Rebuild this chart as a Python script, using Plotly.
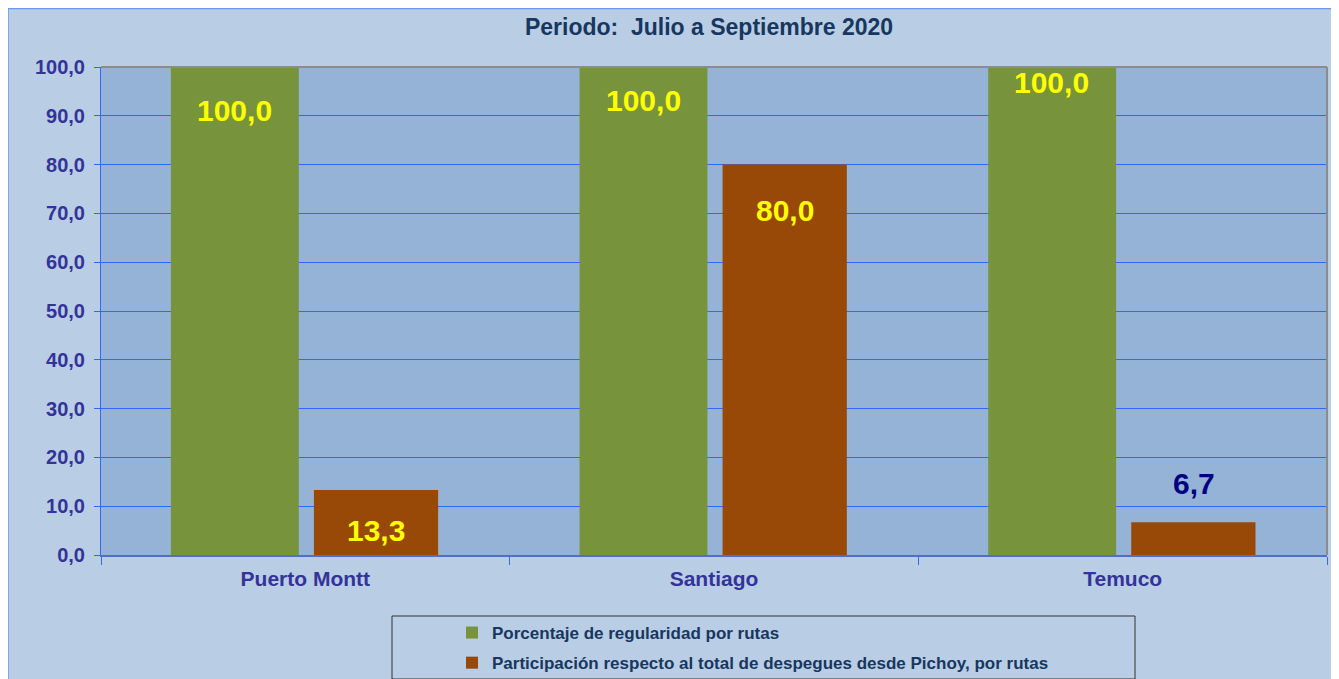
import plotly.graph_objects as go

categories = ["Puerto Montt", "Santiago", "Temuco"]
regularidad = [100.0, 100.0, 100.0]
participacion = [13.3, 80.0, 6.7]
series_names = ["Porcentaje de regularidad por rutas",
                "Participación respecto al total de despegues desde Pichoy, por rutas"]
title_text = "Periodo:&nbsp;&nbsp;Julio a Septiembre 2020"

# label styling (vertical pixel offsets from bar top, colours)
green_label_shift = [-43, -33, -15]
brown_label_shift = [-40, -46, 39]
brown_label_color = ["#FFFF00", "#FFFF00", "#000080"]

GREEN = "#77933C"
BROWN = "#984807"
FONT = "Liberation Sans, Arial, sans-serif"

OFF = 8  # page body margin
W, H = 1331, 671
L, R, T, B = 93, 12, 59, 124
PW, PH = W - L - R, H - T - B

def px(x_page):
    return (x_page - OFF - L) / PW

def py(y_page):
    return (H - B - (y_page - OFF)) / PH

fig = go.Figure()
fig.add_trace(go.Bar(x=categories, y=regularidad, name=series_names[0],
                     marker=dict(color=GREEN, line=dict(width=0)),
                     offset=-0.329, width=0.313, legendgroup="a"))
fig.add_trace(go.Bar(x=categories, y=participacion, name=series_names[1],
                     marker=dict(color=BROWN, line=dict(width=0)),
                     offset=0.021, width=0.304, legendgroup="b"))

annotations = []
for i, c in enumerate(categories):
    annotations.append(dict(x=c, y=regularidad[i], xref="x", yref="y",
                            text=f"{regularidad[i]:.1f}".replace(".", ","),
                            showarrow=False, xshift=-71, yshift=green_label_shift[i],
                            font=dict(family=FONT, size=30, color="#FFFF00", weight="bold")))
    annotations.append(dict(x=c, y=participacion[i], xref="x", yref="y",
                            text=f"{participacion[i]:.1f}".replace(".", ","),
                            showarrow=False, xshift=71, yshift=brown_label_shift[i],
                            font=dict(family=FONT, size=30, color=brown_label_color[i], weight="bold")))

shapes = [
    # outer frame border
    dict(type="rect", xref="paper", yref="paper", x0=px(8), x1=px(1345), y0=py(8.5), y1=py(690),
         fillcolor="rgba(0,0,0,0)", line=dict(color="#6F96F0", width=1.5), layer="below"),
    # plot border top/right (gray)
    dict(type="line", xref="paper", yref="paper", x0=0, x1=1, y0=1, y1=1,
         line=dict(color="#8C8C8C", width=2)),
    dict(type="line", xref="paper", yref="paper", x0=1, x1=1, y0=0, y1=1,
         line=dict(color="#8C8C8C", width=2)),
    # legend box
    dict(type="rect", xref="paper", yref="paper", x0=px(392), x1=px(1135), y0=py(679), y1=py(616),
         fillcolor="rgba(0,0,0,0)", line=dict(color="#333333", width=1)),
]

fig.update_layout(
    width=W, height=H,
    margin=dict(l=L, r=R, t=T, b=B, autoexpand=False),
    paper_bgcolor="#B9CDE5",
    plot_bgcolor="#95B3D7",
    separators=",.",
    barmode="overlay",
    showlegend=True,
    title=dict(text=title_text, x=(709 - OFF) / W, xanchor="center", xref="container",
               y=1 - (27 - OFF) / H, yanchor="middle", yref="container",
               font=dict(family=FONT, size=23, color="#17375E", weight="bold")),
    font=dict(family=FONT),
    legend=dict(x=px(452), y=py(615), xanchor="left", yanchor="top",
                orientation="v", traceorder="grouped", tracegroupgap=5,
                bgcolor="rgba(0,0,0,0)", borderwidth=0, itemwidth=30,
                font=dict(family=FONT, size=17, color="#17375E", weight="bold")),
    annotations=annotations,
    shapes=shapes,
)
fig.update_xaxes(
    type="category", range=[-0.5, 2.5],
    showgrid=False, showline=True, linecolor="#4F6FC8", linewidth=2,
    ticks="outside", tickson="boundaries", ticklen=8, tickcolor="#3366FF",
    ticklabelstandoff=4,
    tickfont=dict(family=FONT, size=21, color="#333399", weight="bold"),
    fixedrange=True,
)
fig.update_yaxes(
    range=[0, 100], dtick=10, tickformat=".1f",
    showgrid=True, gridcolor="#3366FF", gridwidth=1,
    zeroline=False,
    showline=True, linecolor="#3366FF", linewidth=1,
    ticks="outside", ticklen=6, tickcolor="#3366FF",
    ticklabelstandoff=5,
    tickfont=dict(family=FONT, size=20, color="#333399", weight="bold"),
    fixedrange=True,
)

fig.write_html("out.html")
